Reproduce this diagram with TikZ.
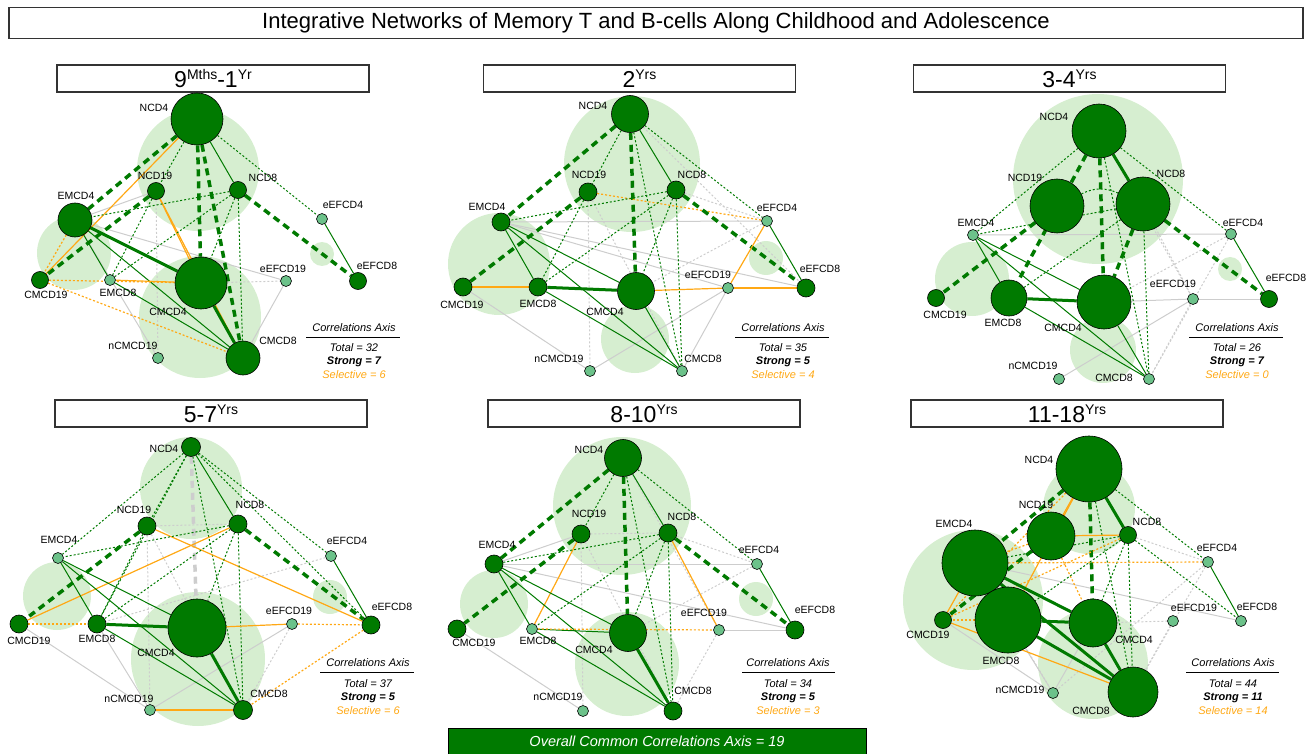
\documentclass[tikz,border=0pt]{standalone}
\usepackage{fontspec}
\setmainfont{Liberation Sans}
\pgfdeclarelayer{halo}
\pgfdeclarelayer{edges}
\pgfsetlayers{halo,edges,main}
\definecolor{dkg}{RGB}{0,122,0}
\definecolor{ltn}{RGB}{108,194,138}
\definecolor{hal}{RGB}{214,238,208}
\definecolor{org}{RGB}{255,168,20}
\definecolor{gry}{RGB}{205,205,205}
\newcommand\cnx[3]{\draw[#1] (#2) -- (#3);}
\newcommand\upx[1]{\raisebox{8pt}{\fontsize{14}{14}\selectfont #1}}
\begin{document}
\begin{tikzpicture}[x=1pt,y=-1pt,
 dk/.style={circle,draw=black,line width=0.6pt,fill=dkg,inner sep=0pt,minimum size=#1},
 lt/.style={circle,draw=black,line width=0.6pt,fill=ltn,inner sep=0pt,minimum size=11pt},
 lbl/.style={font=\fontsize{10.5}{12}\selectfont,inner sep=0pt},
 ts/.style={draw=dkg,line width=1pt},
 tk/.style={draw=dkg,line width=3pt},
 dd/.style={draw=dkg,line width=1pt,dash pattern=on 2pt off 2pt},
 td/.style={draw=dkg,line width=3.5pt,dash pattern=on 7pt off 5pt},
 gtd/.style={draw=gry,line width=3.5pt,dash pattern=on 7pt off 5pt},
 os/.style={draw=org,line width=1.2pt},
 od/.style={draw=org,line width=1.2pt,dash pattern=on 2pt off 2pt},
 gs/.style={draw=gry,line width=1pt},
 gd/.style={draw=gry,line width=1pt,dash pattern=on 2pt off 2pt},
 ptitle/.style={draw=black!80,line width=1.2pt,minimum width=312pt,minimum height=27pt,inner sep=0pt,font=\fontsize{23}{23}\selectfont},
 leg/.style={font=\fontsize{11}{12}\selectfont\itshape,inner sep=0pt},
]
\useasboundingbox (0,0) rectangle (1315,754);

% ---------- titles ----------
\node[draw=black!80,line width=1.2pt,minimum width=1294pt,minimum height=31pt,inner sep=0pt,font=\fontsize{22}{22}\selectfont] (maintitle) at (656,23) {Integrative Networks of Memory T and B-cells Along Childhood and Adolescence};
\node[ptitle] (ta) at (213,78.5) {9\upx{Mths}-1\upx{Yr}};
\node[ptitle] (tb) at (639.5,78.5) {2\upx{Yrs}};
\node[ptitle] (tc) at (1069.5,78.5) {3-4\upx{Yrs}};
\node[ptitle] (td) at (211,413.5) {5-7\upx{Yrs}};
\node[ptitle] (te) at (644,413.5) {8-10\upx{Yrs}};
\node[ptitle] (tf) at (1067,413.5) {11-18\upx{Yrs}};
\node[draw=black,line width=0.8pt,fill=dkg,minimum width=418pt,minimum height=26pt,inner sep=0pt,text=white,font=\fontsize{14.5}{15}\selectfont\itshape] (banner) at (657,741) {Overall Common Correlations Axis = 19};

% ---------- halos ----------
\begin{pgfonlayer}{halo}
\fill[hal] (198,170) circle (61pt);
\fill[hal] (74,253) circle (37pt);
\fill[hal] (200,317) circle (61pt);
\fill[hal] (322,254) circle (12pt);
\fill[hal] (632,164) circle (68pt);
\fill[hal] (499,264) circle (51pt);
\fill[hal] (635,339) circle (34pt);
\fill[hal] (766,258) circle (17pt);
\fill[hal] (1098,179) circle (85pt);
\fill[hal] (972,279) circle (37pt);
\fill[hal] (1103,350) circle (33pt);
\fill[hal] (1230,269) circle (12pt);
\fill[hal] (191,488) circle (51pt);
\fill[hal] (57,596) circle (34pt);
\fill[hal] (198,659) circle (67pt);
\fill[hal] (330,597) circle (17pt);
\fill[hal] (622,506) circle (69pt);
\fill[hal] (494,604) circle (34pt);
\fill[hal] (627,664) circle (52pt);
\fill[hal] (756,599) circle (17pt);
\fill[hal] (1089,508) circle (46pt);
\fill[hal] (973,600) circle (70pt);
\fill[hal] (1093,664) circle (55pt);
\end{pgfonlayer}

% ---------- panel A nodes ----------
\node[dk=52pt] (aNCD4) at (197,119) {};
\node[dk=17pt] (aNCD19) at (156,191) {};
\node[dk=17pt] (aNCD8) at (238,190) {};
\node[dk=34pt] (aEMCD4) at (75,220) {};
\node[lt] (aeEFCD4) at (322,219) {};
\node[dk=17pt] (aeEFCD8) at (358,281) {};
\node[dk=17pt] (aCMCD19) at (40,280) {};
\node[lt] (aEMCD8) at (110,280) {};
\node[dk=52pt] (aCMCD4) at (201,283) {};
\node[lt] (aeEFCD19) at (286,281) {};
\node[lt] (anCMCD19) at (158,358) {};
\node[dk=34pt] (aCMCD8) at (243,358) {};
\node[lbl] (aLNCD4) at (154,108) {NCD4};
\node[lbl] (aLNCD19) at (155,176) {NCD19};
\node[lbl] (aLNCD8) at (263,178) {NCD8};
\node[lbl] (aLEMCD4) at (76,196) {EMCD4};
\node[lbl] (aLeEFCD4) at (343,205) {eEFCD4};
\node[lbl] (aLeEFCD8) at (377,266) {eEFCD8};
\node[lbl] (aLCMCD19) at (46,295) {CMCD19};
\node[lbl] (aLEMCD8) at (118,293) {EMCD8};
\node[lbl] (aLCMCD4) at (168,312) {CMCD4};
\node[lbl] (aLeEFCD19) at (283,269) {eEFCD19};
\node[lbl] (aLnCMCD19) at (133,346) {nCMCD19};
\node[lbl] (aLCMCD8) at (278,341) {CMCD8};
\node[leg] (aleg) at (354,328) {Correlations Axis};
\draw[line width=1pt] (306,337) -- (400,337);
\node[leg] (atot) at (354,348) {Total = 32};
\node[leg,font=\fontsize{11}{12}\selectfont\bfseries\itshape] (astr) at (354,361.5) {Strong = 7};
\node[leg,text=org] (asel) at (354,375) {Selective = 6};

% ---------- panel B nodes ----------
\node[dk=37pt] (bNCD4) at (630,114) {};
\node[dk=18pt] (bNCD19) at (588,192) {};
\node[dk=18pt] (bNCD8) at (676,190) {};
\node[dk=18pt] (bEMCD4) at (501,222) {};
\node[lt] (beEFCD4) at (767,221) {};
\node[dk=18pt] (beEFCD8) at (806,288) {};
\node[dk=18pt] (bCMCD19) at (463,287) {};
\node[dk=18pt] (bEMCD8) at (538,287) {};
\node[dk=37pt] (bCMCD4) at (636,291) {};
\node[lt] (beEFCD19) at (728,288) {};
\node[lt] (bnCMCD19) at (590,371) {};
\node[lt] (bCMCD8) at (682,371) {};
\node[lbl] (bLNCD4) at (593,106) {NCD4};
\node[lbl] (bLNCD19) at (589,175) {NCD19};
\node[lbl] (bLNCD8) at (692,175) {NCD8};
\node[lbl] (bLEMCD4) at (487,207) {EMCD4};
\node[lbl] (bLeEFCD4) at (777,208) {eEFCD4};
\node[lbl] (bLeEFCD8) at (820,269) {eEFCD8};
\node[lbl] (bLCMCD19) at (462,305) {CMCD19};
\node[lbl] (bLEMCD8) at (538,304) {EMCD8};
\node[lbl] (bLCMCD4) at (605,312) {CMCD4};
\node[lbl] (bLeEFCD19) at (708,275) {eEFCD19};
\node[lbl] (bLnCMCD19) at (559,359) {nCMCD19};
\node[lbl] (bLCMCD8) at (703,359) {CMCD8};
\node[leg] (bleg) at (783,328) {Correlations Axis};
\draw[line width=1pt] (735,337) -- (829,337);
\node[leg] (btot) at (783,348) {Total = 35};
\node[leg,font=\fontsize{11}{12}\selectfont\bfseries\itshape] (bstr) at (783,361.5) {Strong = 5};
\node[leg,text=org] (bsel) at (783,375) {Selective = 4};

% ---------- panel C nodes ----------
\node[dk=54pt] (cNCD4) at (1099,131) {};
\node[dk=54pt] (cNCD19) at (1057,206) {};
\node[dk=54pt] (cNCD8) at (1143,204) {};
\node[lt] (cEMCD4) at (973,235) {};
\node[lt] (ceEFCD4) at (1231,234) {};
\node[dk=17pt] (ceEFCD8) at (1269,299) {};
\node[dk=17pt] (cCMCD19) at (936,298) {};
\node[dk=36pt] (cEMCD8) at (1009,298) {};
\node[dk=54pt] (cCMCD4) at (1104,302) {};
\node[lt] (ceEFCD19) at (1193,299) {};
\node[lt] (cnCMCD19) at (1059,379) {};
\node[lt] (cCMCD8) at (1149,379) {};
\node[lbl] (cLNCD4) at (1054,117) {NCD4};
\node[lbl] (cLNCD19) at (1025,178) {NCD19};
\node[lbl] (cLNCD8) at (1171,174) {NCD8};
\node[lbl] (cLEMCD4) at (976,223) {EMCD4};
\node[lbl] (cLeEFCD4) at (1243,223) {eEFCD4};
\node[lbl] (cLeEFCD8) at (1286,278) {eEFCD8};
\node[lbl] (cLCMCD19) at (945,315) {CMCD19};
\node[lbl] (cLEMCD8) at (1003,323) {EMCD8};
\node[lbl] (cLCMCD4) at (1063,328) {CMCD4};
\node[lbl] (cLeEFCD19) at (1173,284) {eEFCD19};
\node[lbl] (cLnCMCD19) at (1033,366) {nCMCD19};
\node[lbl] (cLCMCD8) at (1114,378) {CMCD8};
\node[leg] (cleg) at (1237,328) {Correlations Axis};
\draw[line width=1pt] (1189,337) -- (1283,337);
\node[leg] (ctot) at (1237,348) {Total = 26};
\node[leg,font=\fontsize{11}{12}\selectfont\bfseries\itshape] (cstr) at (1237,361.5) {Strong = 7};
\node[leg,text=org] (csel) at (1237,375) {Selective = 0};

% ---------- panel D nodes ----------
\node[dk=19pt] (dNCD4) at (191,447) {};
\node[dk=18pt] (dNCD19) at (147,526) {};
\node[dk=18pt] (dNCD8) at (238,524) {};
\node[lt] (dEMCD4) at (58,558) {};
\node[lt] (deEFCD4) at (331,556) {};
\node[dk=18pt] (deEFCD8) at (371,625) {};
\node[dk=18pt] (dCMCD19) at (19,624) {};
\node[dk=18pt] (dEMCD8) at (97,624) {};
\node[dk=58pt] (dCMCD4) at (197,628) {};
\node[lt] (deEFCD19) at (292,624) {};
\node[lt] (dnCMCD19) at (150,710) {};
\node[dk=19pt] (dCMCD8) at (243,710) {};
\node[lbl] (dLNCD4) at (164,449) {NCD4};
\node[lbl] (dLNCD19) at (134,510) {NCD19};
\node[lbl] (dLNCD8) at (250,505) {NCD8};
\node[lbl] (dLEMCD4) at (59,540) {EMCD4};
\node[lbl] (dLeEFCD4) at (347,541) {eEFCD4};
\node[lbl] (dLeEFCD8) at (392,607) {eEFCD8};
\node[lbl] (dLCMCD19) at (29,641) {CMCD19};
\node[lbl] (dLEMCD8) at (97,639) {EMCD8};
\node[lbl] (dLCMCD4) at (156,653) {CMCD4};
\node[lbl] (dLeEFCD19) at (289,611) {eEFCD19};
\node[lbl] (dLnCMCD19) at (129,699) {nCMCD19};
\node[lbl] (dLCMCD8) at (269,694) {CMCD8};
\node[leg] (dleg) at (368,663) {Correlations Axis};
\draw[line width=1pt] (320,672) -- (414,672);
\node[leg] (dtot) at (368,684) {Total = 37};
\node[leg,font=\fontsize{11}{12}\selectfont\bfseries\itshape] (dstr) at (368,697.5) {Strong = 5};
\node[leg,text=org] (dsel) at (368,711) {Selective = 6};

% ---------- panel E nodes ----------
\node[dk=37pt] (eNCD4) at (623,458) {};
\node[dk=18pt] (eNCD19) at (581,534) {};
\node[dk=18pt] (eNCD8) at (668,533) {};
\node[dk=18pt] (eEMCD4) at (494,564) {};
\node[lt] (eeEFCD4) at (757,564) {};
\node[dk=18pt] (eeEFCD8) at (795,630) {};
\node[dk=18pt] (eCMCD19) at (457,629) {};
\node[lt] (eEMCD8) at (532,629) {};
\node[dk=37pt] (eCMCD4) at (628,633) {};
\node[lt] (eeEFCD19) at (719,630) {};
\node[lt] (enCMCD19) at (583,711) {};
\node[dk=18pt] (eCMCD8) at (673,711) {};
\node[lbl] (eLNCD4) at (589,450) {NCD4};
\node[lbl] (eLNCD19) at (589,514) {NCD19};
\node[lbl] (eLNCD8) at (682,517) {NCD8};
\node[lbl] (eLEMCD4) at (497,545) {EMCD4};
\node[lbl] (eLeEFCD4) at (759,550) {eEFCD4};
\node[lbl] (eLeEFCD8) at (815,610) {eEFCD8};
\node[lbl] (eLCMCD19) at (474,643) {CMCD19};
\node[lbl] (eLEMCD8) at (538,641) {EMCD8};
\node[lbl] (eLCMCD4) at (594,650) {CMCD4};
\node[lbl] (eLeEFCD19) at (704,613) {eEFCD19};
\node[lbl] (eLnCMCD19) at (558,697) {nCMCD19};
\node[lbl] (eLCMCD8) at (693,691) {CMCD8};
\node[leg] (eleg) at (788,663) {Correlations Axis};
\draw[line width=1pt] (742,672) -- (835,672);
\node[leg] (etot) at (788,684) {Total = 34};
\node[leg,font=\fontsize{11}{12}\selectfont\bfseries\itshape] (estr) at (788,697.5) {Strong = 5};
\node[leg,text=org] (esel) at (788,711) {Selective = 3};

% ---------- panel F nodes ----------
\node[dk=66pt] (fNCD4) at (1089,469) {};
\node[dk=48pt] (fNCD19) at (1051,536) {};
\node[dk=17pt] (fNCD8) at (1128,535) {};
\node[dk=66pt] (fEMCD4) at (975,563) {};
\node[lt] (feEFCD4) at (1208,562) {};
\node[lt] (feEFCD8) at (1241,621) {};
\node[dk=17pt] (fCMCD19) at (943,620) {};
\node[dk=66pt] (fEMCD8) at (1008,620) {};
\node[dk=48pt] (fCMCD4) at (1093,623) {};
\node[lt] (feEFCD19) at (1173,621) {};
\node[lt] (fnCMCD19) at (1053,693) {};
\node[dk=50pt] (fCMCD8) at (1133,692) {};
\node[lbl] (fLNCD4) at (1039,460) {NCD4};
\node[lbl] (fLNCD19) at (1036,505) {NCD19};
\node[lbl] (fLNCD8) at (1147,522) {NCD8};
\node[lbl] (fLEMCD4) at (954,524) {EMCD4};
\node[lbl] (fLeEFCD4) at (1217,548) {eEFCD4};
\node[lbl] (fLeEFCD8) at (1257,607) {eEFCD8};
\node[lbl] (fLCMCD19) at (928,635) {CMCD19};
\node[lbl] (fLEMCD8) at (1001,661) {EMCD8};
\node[lbl] (fLCMCD4) at (1134,640) {CMCD4};
\node[lbl] (fLeEFCD19) at (1194,608) {eEFCD19};
\node[lbl] (fLnCMCD19) at (1020,690) {nCMCD19};
\node[lbl] (fLCMCD8) at (1091,711) {CMCD8};
\node[leg] (fleg) at (1233,663) {Correlations Axis};
\draw[line width=1pt] (1186,672) -- (1279,672);
\node[leg] (ftot) at (1233,684) {Total = 44};
\node[leg,font=\fontsize{11}{12}\selectfont\bfseries\itshape] (fstr) at (1233,697.5) {Strong = 11};
\node[leg,text=org] (fsel) at (1233,711) {Selective = 14};

% ---------- edges ----------
\begin{pgfonlayer}{edges}
% A
\cnx{gs}{aNCD19}{aEMCD4}
\cnx{gd}{aNCD19}{anCMCD19}
\cnx{gs}{aEMCD4}{aeEFCD19}
\cnx{gs}{aEMCD4}{anCMCD19}
\cnx{gd}{aCMCD4}{aeEFCD19}
\cnx{gs}{aeEFCD19}{aCMCD8}
\cnx{td}{aNCD4}{aEMCD4}
\cnx{os}{aNCD4}{aCMCD19}
\cnx{dd}{aNCD4}{aNCD19}
\cnx{td}{aNCD4}{aCMCD4}
\cnx{td}{aNCD4}{aCMCD8}
\cnx{ts}{aNCD4}{aNCD8}
\cnx{dd}{aNCD4}{aeEFCD4}
\cnx{td}{aNCD19}{aCMCD19}
\cnx{os}{aNCD19}{aCMCD4}
\cnx{os}{aNCD19}{aCMCD8}
\cnx{dd}{aNCD19}{aEMCD8}
\cnx{dd}{aNCD8}{aEMCD4}
\cnx{dd}{aNCD8}{aEMCD8}
\cnx{dd}{aNCD8}{aCMCD4}
\cnx{dd}{aNCD8}{aCMCD8}
\cnx{td}{aNCD8}{aeEFCD8}
\cnx{ts}{aeEFCD4}{aeEFCD8}
\cnx{tk}{aEMCD4}{aCMCD4}
\cnx{ts}{aEMCD4}{aCMCD8}
\cnx{ts}{aEMCD4}{aEMCD8}
\cnx{od}{aEMCD4}{aCMCD19}
\cnx{od}{aCMCD19}{aCMCD4}
\cnx{od}{aCMCD19}{aCMCD8}
\cnx{os}{aEMCD8}{aCMCD4}
\cnx{ts}{aEMCD8}{aCMCD8}
\cnx{os}{aCMCD4}{aCMCD8}
\cnx{tk}{aCMCD4}{aCMCD8}
% B
\cnx{gd}{bNCD4}{beEFCD8}
\cnx{gd}{bNCD19}{bnCMCD19}
\cnx{gd}{bNCD19}{bCMCD8}
\cnx{gd}{bNCD8}{beEFCD4}
\cnx{gs}{bEMCD4}{beEFCD4}
\cnx{gs}{bEMCD4}{beEFCD8}
\cnx{gs}{bEMCD4}{beEFCD19}
\cnx{gs}{bCMCD19}{bnCMCD19}
\cnx{gs}{beEFCD19}{bnCMCD19}
\cnx{gs}{beEFCD19}{bCMCD8}
\cnx{gd}{beEFCD4}{bCMCD4}
\cnx{td}{bNCD4}{bEMCD4}
\cnx{dd}{bNCD4}{bNCD19}
\cnx{td}{bNCD4}{bCMCD4}
\cnx{ts}{bNCD4}{bNCD8}
\cnx{dd}{bNCD4}{bCMCD8}
\cnx{dd}{bNCD4}{beEFCD4}
\cnx{td}{bNCD19}{bCMCD19}
\cnx{od}{bNCD19}{beEFCD4}
\cnx{dd}{bNCD19}{bEMCD8}
\cnx{dd}{bNCD8}{bEMCD4}
\cnx{dd}{bNCD8}{bEMCD8}
\cnx{dd}{bNCD8}{bCMCD4}
\cnx{dd}{bNCD8}{bCMCD8}
\cnx{td}{bNCD8}{beEFCD8}
\cnx{ts}{bEMCD4}{bEMCD8}
\cnx{ts}{bEMCD4}{bCMCD4}
\cnx{ts}{bEMCD4}{bCMCD8}
\cnx{tk}{bEMCD8}{bCMCD4}
\cnx{ts}{bEMCD8}{bCMCD8}
\cnx{os}{bCMCD19}{bEMCD8}
\cnx{os}{bCMCD4}{beEFCD19}
\cnx{ts}{bCMCD4}{bCMCD8}
\cnx{os}{beEFCD19}{beEFCD8}
\cnx{os}{beEFCD19}{beEFCD4}
\cnx{ts}{beEFCD4}{beEFCD8}
% C
\cnx{gd}{cNCD4}{ceEFCD19}
\cnx{gd}{cNCD8}{ceEFCD19}
\cnx{gs}{cEMCD4}{ceEFCD4}
\cnx{gs}{cCMCD4}{ceEFCD19}
\cnx{gs}{ceEFCD19}{ceEFCD8}
\cnx{gs}{ceEFCD19}{cnCMCD19}
\cnx{gd}{ceEFCD4}{cCMCD8}
\cnx{gd}{ceEFCD4}{cCMCD4}
\cnx{gd}{ceEFCD19}{cCMCD8}
\cnx{dd}{cNCD4}{cEMCD4}
\cnx{td}{cNCD4}{cCMCD4}
\cnx{tk}{cNCD4}{cNCD8}
\cnx{td}{cNCD4}{cEMCD8}
\cnx{dd}{cNCD4}{cCMCD8}
\cnx{dd}{cNCD4}{ceEFCD4}
\cnx{td}{cNCD19}{cCMCD19}
\draw[dd] (cNCD19) to[bend left=25] (cNCD8);
\cnx{td}{cNCD8}{cCMCD4}
\cnx{td}{cNCD8}{ceEFCD8}
\cnx{dd}{cNCD8}{cEMCD8}
\cnx{dd}{cNCD8}{cCMCD8}
\cnx{dd}{cNCD8}{cEMCD4}
\cnx{ts}{cEMCD4}{cEMCD8}
\cnx{ts}{cEMCD4}{cCMCD4}
\cnx{ts}{cEMCD4}{cCMCD8}
\cnx{tk}{cEMCD8}{cCMCD4}
\cnx{ts}{cEMCD8}{cCMCD8}
\cnx{ts}{cCMCD4}{cCMCD8}
\cnx{ts}{ceEFCD4}{ceEFCD8}
% D
\cnx{gtd}{dNCD4}{dCMCD4}
\cnx{gd}{dNCD19}{dNCD8}
\cnx{gd}{dNCD19}{dnCMCD19}
\cnx{gd}{dNCD19}{dCMCD8}
\cnx{gs}{dEMCD8}{dnCMCD19}
\cnx{gs}{dCMCD19}{dnCMCD19}
\cnx{gd}{deEFCD4}{dEMCD8}
\cnx{gs}{deEFCD19}{dnCMCD19}
\cnx{gd}{deEFCD19}{dCMCD8}
\cnx{ts}{dNCD4}{dNCD8}
\cnx{dd}{dNCD4}{dEMCD4}
\cnx{dd}{dNCD4}{dNCD19}
\cnx{dd}{dNCD4}{dEMCD8}
\cnx{dd}{dNCD4}{dCMCD8}
\cnx{dd}{dNCD4}{deEFCD4}
\cnx{dd}{dNCD4}{deEFCD8}
\cnx{td}{dNCD19}{dCMCD19}
\cnx{os}{dNCD19}{deEFCD8}
\cnx{dd}{dNCD19}{dEMCD8}
\cnx{os}{dNCD8}{dCMCD19}
\cnx{dd}{dNCD8}{dEMCD4}
\cnx{dd}{dNCD8}{dEMCD8}
\cnx{dd}{dNCD8}{dCMCD4}
\cnx{dd}{dNCD8}{dCMCD8}
\cnx{td}{dNCD8}{deEFCD8}
\cnx{ts}{dEMCD4}{dEMCD8}
\cnx{ts}{dEMCD4}{dCMCD4}
\cnx{ts}{dEMCD4}{dCMCD8}
\cnx{tk}{dEMCD8}{dCMCD4}
\cnx{ts}{dEMCD8}{dCMCD8}
\cnx{od}{dCMCD19}{dEMCD8}
\cnx{tk}{dCMCD4}{dCMCD8}
\cnx{os}{dCMCD4}{deEFCD19}
\cnx{od}{deEFCD19}{deEFCD8}
\cnx{od}{deEFCD8}{dCMCD8}
\cnx{os}{dnCMCD19}{dCMCD8}
\cnx{ts}{deEFCD4}{deEFCD8}
% E
\cnx{gd}{eNCD4}{eeEFCD19}
\cnx{gs}{eNCD19}{eEMCD4}
\cnx{gd}{eNCD19}{eNCD8}
\cnx{gd}{eNCD19}{enCMCD19}
\cnx{gd}{eNCD19}{eCMCD8}
\cnx{gd}{eNCD8}{eeEFCD4}
\cnx{gs}{eEMCD4}{eeEFCD4}
\cnx{gs}{eEMCD4}{eeEFCD8}
\cnx{gs}{eCMCD19}{enCMCD19}
\cnx{gs}{eeEFCD19}{eeEFCD8}
\cnx{gd}{eeEFCD19}{eCMCD8}
\cnx{gd}{eeEFCD4}{eCMCD4}
\cnx{td}{eNCD4}{eEMCD4}
\cnx{dd}{eNCD4}{eNCD19}
\cnx{td}{eNCD4}{eCMCD4}
\cnx{ts}{eNCD4}{eNCD8}
\cnx{dd}{eNCD4}{eCMCD8}
\cnx{dd}{eNCD4}{eeEFCD4}
\cnx{td}{eNCD19}{eCMCD19}
\cnx{os}{eNCD19}{eEMCD8}
\cnx{dd}{eNCD8}{eEMCD4}
\cnx{dd}{eNCD8}{eEMCD8}
\cnx{dd}{eNCD8}{eCMCD4}
\cnx{dd}{eNCD8}{eCMCD8}
\cnx{os}{eNCD8}{eeEFCD19}
\cnx{td}{eNCD8}{eeEFCD8}
\cnx{ts}{eEMCD4}{eEMCD8}
\cnx{ts}{eEMCD4}{eCMCD4}
\cnx{ts}{eEMCD4}{eCMCD8}
\cnx{ts}{eEMCD8}{eCMCD4}
\cnx{ts}{eEMCD8}{eCMCD8}
\cnx{od}{eEMCD8}{eeEFCD19}
\cnx{tk}{eCMCD4}{eCMCD8}
\cnx{ts}{eeEFCD4}{eeEFCD8}
% F
\cnx{gd}{fNCD8}{feEFCD4}
\cnx{gs}{fEMCD4}{feEFCD8}
\cnx{gs}{fCMCD19}{fnCMCD19}
\cnx{gd}{fCMCD4}{feEFCD19}
\cnx{gd}{feEFCD4}{fCMCD8}
\cnx{gd}{feEFCD4}{fnCMCD19}
\cnx{gs}{fCMCD4}{fnCMCD19}
\cnx{gd}{fEMCD4}{fnCMCD19}
\cnx{gd}{feEFCD19}{fCMCD8}
\cnx{gs}{fEMCD8}{fnCMCD19}
\cnx{tk}{fNCD4}{fNCD8}
\cnx{td}{fNCD4}{fCMCD4}
\cnx{td}{fNCD4}{fEMCD4}
\cnx{od}{fNCD4}{fCMCD19}
\cnx{os}{fNCD4}{fEMCD8}
\cnx{dd}{fNCD4}{feEFCD4}
\cnx{dd}{fNCD4}{fCMCD8}
\cnx{os}{fNCD4}{fNCD19}
\cnx{td}{fNCD19}{fCMCD19}
\cnx{os}{fNCD19}{fNCD8}
\cnx{od}{fNCD19}{fEMCD4}
\cnx{od}{fNCD19}{fCMCD4}
\cnx{dd}{fNCD8}{fEMCD4}
\cnx{od}{fNCD8}{fCMCD19}
\cnx{dd}{fNCD8}{fEMCD8}
\cnx{dd}{fNCD8}{fCMCD4}
\cnx{dd}{fNCD8}{fCMCD8}
\cnx{dd}{fNCD8}{feEFCD8}
\cnx{od}{fEMCD4}{feEFCD4}
\cnx{tk}{fEMCD4}{fCMCD4}
\cnx{tk}{fEMCD4}{fCMCD8}
\cnx{os}{fEMCD4}{fCMCD19}
\cnx{tk}{fEMCD8}{fCMCD4}
\cnx{tk}{fEMCD8}{fCMCD8}
\cnx{od}{fEMCD8}{fCMCD19}
\cnx{os}{fCMCD19}{fCMCD8}
\cnx{os}{fCMCD4}{fCMCD8}
\cnx{tk}{fCMCD4}{fCMCD8}
\cnx{ts}{feEFCD4}{feEFCD8}
\end{pgfonlayer}
\end{tikzpicture}
\end{document}
